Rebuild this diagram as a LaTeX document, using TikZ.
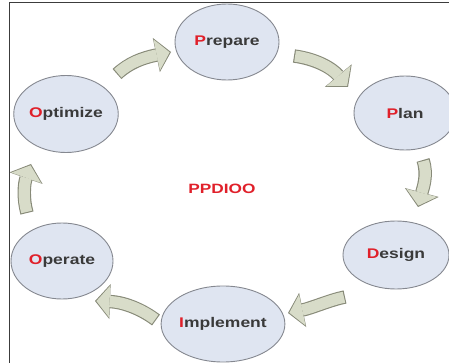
\documentclass[tikz,border=0pt]{standalone}
\usepackage{fontspec}
\setmainfont{Liberation Sans}
\usepackage{graphicx}
\usetikzlibrary{shapes.geometric,arrows.meta}
\definecolor{ellfill}{HTML}{DFE5F1}
\definecolor{elldraw}{HTML}{858890}
\definecolor{arrfill}{HTML}{D8DCC9}
\definecolor{arrdraw}{HTML}{878A78}
\definecolor{txtred}{HTML}{E0202A}
\definecolor{txtgray}{HTML}{3A3A3A}
\definecolor{framecol}{HTML}{3C3C3C}
\newcommand{\phase}[2]{\scalebox{1.25}[1]{\bfseries{\color{txtred}#1}#2}}
\tikzset{
  phasenode/.style={ellipse, draw=elldraw, line width=0.9pt, fill=ellfill, inner sep=0pt,
    text=txtgray, font=\fontsize{14}{16}\selectfont},
  bandout/.style={draw=arrdraw, line width=13.4pt,
    -{Triangle[length=15pt,width=35pt,line width=0pt]}},
  bandin/.style={draw=arrfill, line width=11.2pt, shorten >=1.4pt, shorten <=1.1pt,
    -{Triangle[length=13.2pt,width=31.6pt,line width=0pt]}}
}
\begin{document}
\begin{tikzpicture}[x=1pt,y=-1pt]
\useasboundingbox (0,0) rectangle (449,363);
% nodes
\node[phasenode, minimum width=104, minimum height=76] (prepare) at (227,42) {\phase{P}{repare}};
\node[phasenode, minimum width=104, minimum height=77] (optimize) at (66,114) {\phase{O}{ptimize}};
\node[phasenode, minimum width=102, minimum height=74] (plan) at (405,113) {\phase{P}{lan}};
\node[phasenode, minimum width=106, minimum height=68] (design) at (396,255) {\phase{D}{esign}};
\node[phasenode, minimum width=102, minimum height=76] (operate) at (62,261) {\phase{O}{perate}};
\node[phasenode, minimum width=104, minimum height=76] (implement) at (223,324) {\phase{I}{mplement}};
\node[text=txtred, font=\fontsize{13.5}{16}\selectfont\bfseries] (title) at (222,189) {\scalebox{1.28}[1]{PPDIOO}};
% arrow end and control points
\coordinate (s1) at (117,74);  \coordinate (c1a) at (129,63);  \coordinate (c1b) at (142,58);  \coordinate (e1) at (171,52);
\coordinate (s2) at (294,56);  \coordinate (c2a) at (316,59);  \coordinate (c2b) at (332,68);  \coordinate (e2) at (348,87);
\coordinate (s3) at (423,160); \coordinate (c3a) at (428,175); \coordinate (c3b) at (423,188); \coordinate (e3) at (418,207);
\coordinate (s4) at (345,297); \coordinate (c4a) at (330,300); \coordinate (c4b) at (312,308); \coordinate (e4) at (288,313);
\coordinate (s5) at (156,320); \coordinate (c5a) at (140,308); \coordinate (c5b) at (122,302); \coordinate (e5) at (95,301);
\coordinate (s6) at (27,213);  \coordinate (c6a) at (23,199);  \coordinate (c6b) at (24,184);  \coordinate (e6) at (31,164);
% arrows
\foreach \i in {1,...,6}{
  \draw[bandout] (s\i) .. controls (c\i a) and (c\i b) .. (e\i);
  \draw[bandin] (s\i) .. controls (c\i a) and (c\i b) .. (e\i);
}
% frame
\draw[framecol, line width=1.5pt] (9.5,363) -- (9.5,2.5) -- (449,2.5);
\end{tikzpicture}
\end{document}
